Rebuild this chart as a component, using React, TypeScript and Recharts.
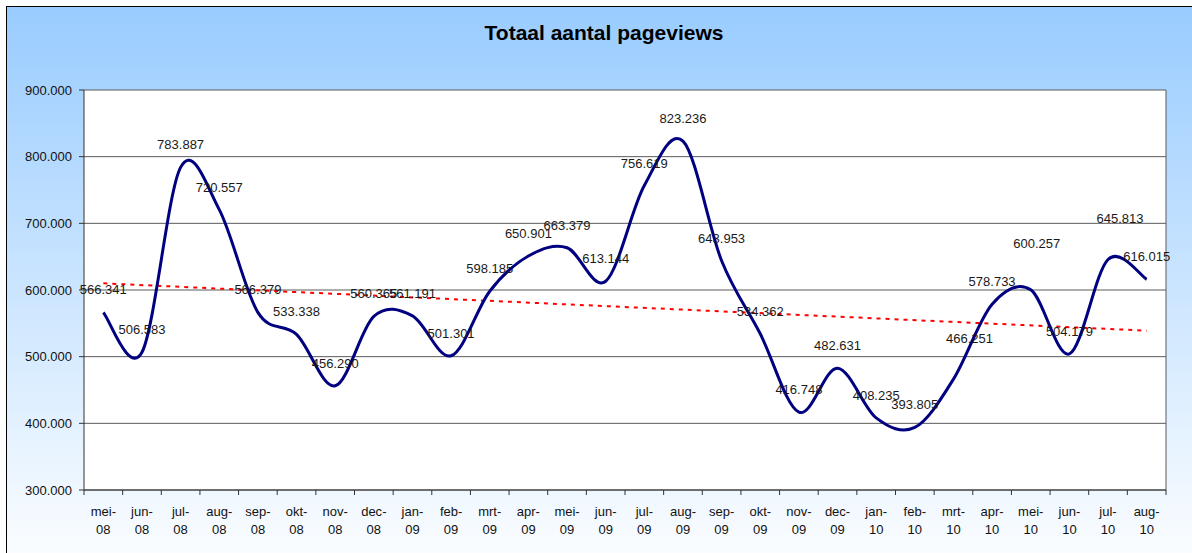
import React from "react";
import { CartesianGrid, Line, LineChart, XAxis, YAxis } from "recharts";

// maand-labels (mei-08 .. aug-10)
const months = [
  "mei-08", "jun-08", "jul-08", "aug-08", "sep-08", "okt-08", "nov-08",
  "dec-08", "jan-09", "feb-09", "mrt-09", "apr-09", "mei-09", "jun-09",
  "jul-09", "aug-09", "sep-09", "okt-09", "nov-09", "dec-09", "jan-10",
  "feb-10", "mrt-10", "apr-10", "mei-10", "jun-10", "jul-10", "aug-10",
];

// totaal aantal pageviews per maand
const pageviews = [
  566341, 506583, 783887, 720557, 566379, 533338, 456290,
  560365, 561191, 501301, 598185, 650901, 663379, 613144,
  756619, 823236, 643953, 534362, 416748, 482631, 408235,
  393805, 466251, 578733, 600257, 504179, 645813, 616015,
];

const trendStart = 610000;
const trendEnd = 539000;

const yTicks = [300000, 400000, 500000, 600000, 700000, 800000, 900000];

const data = months.map((m, i) => ({
  month: m,
  views: pageviews[i],
  trend: i === 0 ? trendStart : i === months.length - 1 ? trendEnd : null,
}));

const W = 1192;
const H = 553;
const LEFT = 84;
const RIGHT = 26;
const BAND = (W - LEFT - RIGHT) / months.length;
const FONT = '"Liberation Sans", Arial, sans-serif';

// labels die in het origineel handmatig verschoven zijn
const labelShift: Record<string, [number, number]> = {
  "mrt-10": [16, -18],
  "mei-10": [6, -24],
  "jul-10": [12, -18],
};

const fmt = (v: number) =>
  String(Math.round(v)).replace(/\B(?=(\d{3})+(?!\d))/g, ".");

// excel-achtige smoothing (catmull-rom)
const excelSmooth = (context: any) => {
  let pts: [number, number][] = [];
  return {
    areaStart() {},
    areaEnd() {},
    lineStart() {
      pts = [];
    },
    lineEnd() {
      if (!pts.length) return;
      context.moveTo(pts[0][0], pts[0][1]);
      for (let i = 0; i < pts.length - 1; i++) {
        const p0 = pts[Math.max(i - 1, 0)];
        const p1 = pts[i];
        const p2 = pts[i + 1];
        const p3 = pts[Math.min(i + 2, pts.length - 1)];
        context.bezierCurveTo(
          p1[0] + (p2[0] - p0[0]) / 6,
          p1[1] + (p2[1] - p0[1]) / 6,
          p2[0] - (p3[0] - p1[0]) / 6,
          p2[1] - (p3[1] - p1[1]) / 6,
          p2[0],
          p2[1]
        );
      }
    },
    point(x: number, y: number) {
      pts.push([+x, +y]);
    },
  };
};

const MonthTick = (props: any) => {
  const { x, y, payload, index } = props;
  const [m, yr] = String(payload.value).split("-");
  const half = BAND / 2;
  return (
    <g>
      <line x1={x - half} y1={y} x2={x - half} y2={y + 5} stroke="#333" />
      {index === months.length - 1 && (
        <line x1={x + half} y1={y} x2={x + half} y2={y + 5} stroke="#333" />
      )}
      <text x={x} y={y + 26} textAnchor="middle" fontSize={13} fontFamily={FONT} fill="#111">
        {m}-
      </text>
      <text x={x} y={y + 44} textAnchor="middle" fontSize={13} fontFamily={FONT} fill="#111">
        {yr}
      </text>
    </g>
  );
};

const ValueLabel = (props: any) => {
  const { cx, cy, payload, index } = props;
  const [dx, dy] = labelShift[payload.month] ?? [0, 0];
  return (
    <text
      key={`lbl-${index}`}
      x={cx + dx}
      y={cy - 18 + dy}
      textAnchor="middle"
      fontSize={13}
      fontFamily={FONT}
      fill="#1a1a1a"
    >
      {fmt(payload.views)}
    </text>
  );
};

export default function App() {
  return (
    <div style={{ position: "relative", width: W, height: H, background: "#fff", overflow: "hidden" }}>
      <style>{`body{margin:0}`}</style>
      <div
        style={{
          position: "absolute",
          left: 6,
          top: 6,
          width: W + 20,
          height: H + 20,
          border: "1.5px solid #000",
          background: "linear-gradient(#99CCFF, #FFFFFF)",
        }}
      />
      <div
        style={{
          position: "absolute",
          left: 0,
          top: 21,
          width: 1208,
          textAlign: "center",
          fontFamily: FONT,
          fontWeight: "bold",
          fontSize: 21,
          color: "#000",
        }}
      >
        Totaal aantal pageviews
      </div>
      <div style={{ position: "absolute", left: 0, top: 0 }}>
        <LineChart
          width={W}
          height={H}
          data={data}
          margin={{ top: 90, right: RIGHT, bottom: 13, left: 0 }}
        >
          <CartesianGrid
            fill="#fff"
            stroke="#5a5a5a"
            strokeWidth={1}
            horizontal
            vertical
            verticalCoordinatesGenerator={({ offset }: any) => [offset.left + offset.width]}
          />
          <XAxis
            dataKey="month"
            scale="band"
            interval={0}
            tickSize={0}
            tickMargin={0}
            height={50}
            tickLine={false}
            axisLine={{ stroke: "#333" }}
            tick={<MonthTick />}
          />
          <YAxis
            width={LEFT}
            domain={[300000, 900000]}
            ticks={yTicks}
            allowDataOverflow
            tickFormatter={fmt}
            tickSize={5}
            tickMargin={7}
            tickLine={{ stroke: "#333" }}
            axisLine={{ stroke: "#333" }}
            tick={{ fontSize: 13, fontFamily: FONT, fill: "#111" }}
          />
          <Line
            dataKey="trend"
            type="linear"
            connectNulls
            stroke="#FF0000"
            strokeWidth={2}
            strokeDasharray="4 5"
            dot={false}
            activeDot={false}
            isAnimationActive={false}
          />
          <Line
            dataKey="views"
            type={excelSmooth as any}
            stroke="#000080"
            strokeWidth={3}
            dot={ValueLabel}
            activeDot={false}
            isAnimationActive={false}
          />
        </LineChart>
      </div>
    </div>
  );
}
